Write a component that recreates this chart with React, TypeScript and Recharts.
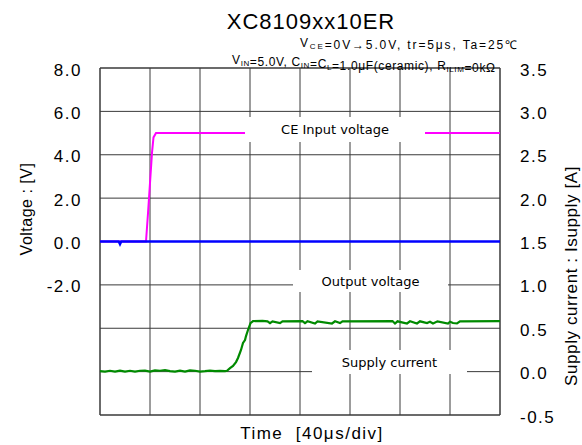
import React from 'react';
import { LineChart, Line, XAxis, YAxis, ReferenceLine } from 'recharts';

// time axis: 8 div x 40us
const timeTicks = [0, 40, 80, 120, 160, 200, 240, 280, 320];
const voltTicks = [-8, -6, -4, -2, 0, 2, 4, 6, 8];
const currentTicks = [-0.5, 0, 0.5, 1, 1.5, 2, 2.5, 3, 3.5];

// CE input voltage [V]
const ceInput = [
  { t: 0, v: 0 }, { t: 36.8, v: 0 }, { t: 38.4, v: 1.3 }, { t: 40, v: 2.7 },
  { t: 41.6, v: 4.1 }, { t: 42.8, v: 4.8 }, { t: 44.8, v: 5.0 }, { t: 320, v: 5.0 },
];

// output voltage [V]
const outputVoltage = [
  { t: 0, v: 0 }, { t: 15, v: 0 }, { t: 16, v: -0.12 }, { t: 17, v: 0 }, { t: 320, v: 0 },
];

// supply current [A]
const supplyCurrent = [
  { t: 0, i: 0.005 }, { t: 4, i: 0 }, { t: 8, i: 0.01 }, { t: 12, i: 0 }, { t: 16, i: 0.012 },
  { t: 20, i: 0 }, { t: 24, i: 0.01 }, { t: 28, i: 0 }, { t: 32, i: 0.01 }, { t: 36, i: 0.012 },
  { t: 40, i: 0 }, { t: 44, i: 0.015 }, { t: 48, i: 0.01 }, { t: 52, i: 0.018 }, { t: 56, i: 0.005 },
  { t: 60, i: 0 }, { t: 64, i: 0.012 }, { t: 68, i: 0 }, { t: 72, i: 0.015 }, { t: 76, i: 0.01 },
  { t: 80, i: 0 }, { t: 84, i: 0.005 }, { t: 88, i: 0.012 }, { t: 92, i: 0.005 }, { t: 96, i: 0.008 },
  { t: 100, i: 0.005 }, { t: 101.6, i: 0.01 }, { t: 104, i: 0.04 }, { t: 106.4, i: 0.065 },
  { t: 108.8, i: 0.11 }, { t: 110.4, i: 0.157 }, { t: 112.8, i: 0.25 }, { t: 114.4, i: 0.33 },
  { t: 116, i: 0.364 }, { t: 116.8, i: 0.41 }, { t: 118.4, i: 0.48 }, { t: 120.4, i: 0.56 },
  { t: 122.4, i: 0.583 }, { t: 130, i: 0.585 }, { t: 134, i: 0.58 }, { t: 136, i: 0.56 },
  { t: 138, i: 0.58 }, { t: 144, i: 0.56 }, { t: 146, i: 0.58 }, { t: 162, i: 0.583 },
  { t: 164, i: 0.56 }, { t: 166, i: 0.58 }, { t: 172, i: 0.555 }, { t: 174, i: 0.58 },
  { t: 185.6, i: 0.555 }, { t: 188, i: 0.58 }, { t: 192, i: 0.56 }, { t: 194, i: 0.58 },
  { t: 234, i: 0.583 }, { t: 236, i: 0.555 }, { t: 238, i: 0.58 }, { t: 245.6, i: 0.555 },
  { t: 248, i: 0.58 }, { t: 253.6, i: 0.555 }, { t: 256, i: 0.58 }, { t: 261.6, i: 0.56 },
  { t: 264, i: 0.575 }, { t: 266.4, i: 0.555 }, { t: 270, i: 0.58 }, { t: 278.4, i: 0.555 },
  { t: 280, i: 0.575 }, { t: 282.4, i: 0.56 }, { t: 285.6, i: 0.555 }, { t: 288, i: 0.58 },
  { t: 320, i: 0.583 },
];

const FONT = '"Liberation Sans", Arial, sans-serif';
const LABEL_FONT = '"DejaVu Sans", sans-serif';
const GRID = '#3a3a3a';

const LeftTick = ({ x, y, payload }: any) => (
  <text x={x} y={y + 2} textAnchor="end" dominantBaseline="central"
    fontSize={17} letterSpacing={1.5} fontFamily={FONT} fill="#000">
    {payload.value >= -2 ? payload.value.toFixed(1) : ''}
  </text>
);

const RightTick = ({ x, y, payload }: any) => (
  <text x={x} y={y + 2} textAnchor="start" dominantBaseline="central"
    fontSize={17} letterSpacing={1.5} fontFamily={FONT} fill="#000">
    {payload.value.toFixed(1)}
  </text>
);

const Sub = ({ children }: { children: React.ReactNode }) => (
  <>
    <tspan fontSize={8} dy={2}>{children}</tspan>
    <tspan dy={-2}>{''}</tspan>
  </>
);

const LabelBox = ({ x1, x2, y1, y2, text }: any) => (
  <g>
    <rect x={x1} y={y1} width={x2 - x1} height={y2 - y1} fill="#fff" />
    <text x={(x1 + x2) / 2} y={(y1 + y2) / 2} textAnchor="middle" dominantBaseline="central"
      fontSize={13} fontFamily={LABEL_FONT} fill="#000">{text}</text>
  </g>
);

export default function App() {
  return (
    <div style={{ position: 'absolute', left: 0, top: 0, width: 582, height: 445, background: '#fff', fontFamily: FONT }}>
      <LineChart width={582} height={445} margin={{ top: 68, right: 0, bottom: 0, left: 0 }}>
        <XAxis dataKey="t" type="number" domain={[0, 320]} ticks={timeTicks}
          tick={false} tickLine={false} axisLine={false} height={30} allowDuplicatedCategory={false} />
        <YAxis yAxisId="left" type="number" domain={[-8, 8]} ticks={voltTicks} width={100}
          tick={<LeftTick />} tickSize={0} tickMargin={18} tickLine={false} axisLine={false} />
        <YAxis yAxisId="right" orientation="right" type="number" domain={[-0.5, 3.5]} ticks={currentTicks} width={82}
          tick={<RightTick />} tickSize={0} tickMargin={20} tickLine={false} axisLine={false} />
        {voltTicks.map((v) => (
          <ReferenceLine key={`h${v}`} yAxisId="left" y={v} stroke={GRID}
            strokeWidth={v === 8 || v === -8 ? 1.5 : 1} />
        ))}
        {timeTicks.map((t) => (
          <ReferenceLine key={`v${t}`} yAxisId="left" x={t} stroke={GRID}
            strokeWidth={t === 0 || t === 320 ? 1.5 : 1} />
        ))}
        <Line yAxisId="left" data={ceInput} dataKey="v" stroke="#ff00ff" strokeWidth={2}
          dot={false} isAnimationActive={false} type="linear" />
        <Line yAxisId="left" data={outputVoltage} dataKey="v" stroke="#0000ff" strokeWidth={2.5}
          dot={false} isAnimationActive={false} type="linear" />
        <Line yAxisId="right" data={supplyCurrent} dataKey="i" stroke="#008a00" strokeWidth={2.2}
          dot={false} isAnimationActive={false} type="linear" />
      </LineChart>
      <svg width={582} height={445} style={{ position: 'absolute', left: 0, top: 0, pointerEvents: 'none' }}>
        <text x={311} y={29} textAnchor="middle" fontSize={22} letterSpacing={1} fontFamily={FONT} fill="#000">
          XC8109xx10ER
        </text>
        <text x={300} y={47} fontSize={12} fontFamily={FONT} fill="#000" textLength={217} lengthAdjust="spacing">
          V<Sub>CE</Sub>=0V→5.0V, tr=5μs, Ta=25℃
        </text>
        <text x={232} y={64} fontSize={12} fontFamily={FONT} fill="#000" textLength={263} lengthAdjust="spacing">
          V<Sub>IN</Sub>=5.0V, C<Sub>IN</Sub>=C<Sub>L</Sub>=1.0μF(ceramic), R<Sub>ILIM</Sub>=0kΩ
        </text>
        <text transform="translate(26,209) rotate(-90)" textAnchor="middle" dominantBaseline="central"
          fontSize={16} letterSpacing={0.5} fontFamily={FONT} fill="#000">
          Voltage : [V]
        </text>
        <text transform="translate(571,276) rotate(-90)" textAnchor="middle" dominantBaseline="central"
          fontSize={17} letterSpacing={0.6} fontFamily={FONT} fill="#000">
          Supply current : Isupply [A]
        </text>
        <text x={312} y={439} textAnchor="middle" fontSize={17} letterSpacing={1.5} fontFamily={FONT} fill="#000"
          style={{ whiteSpace: 'pre' }}>
          {'Time  [40μs/div]'}
        </text>
        <LabelBox x1={245} x2={425} y1={117} y2={142} text="CE Input voltage" />
        <LabelBox x1={293} x2={448} y1={270} y2={292} text="Output voltage" />
        <LabelBox x1={312} x2={467} y1={350} y2={374} text="Supply current" />
      </svg>
    </div>
  );
}
